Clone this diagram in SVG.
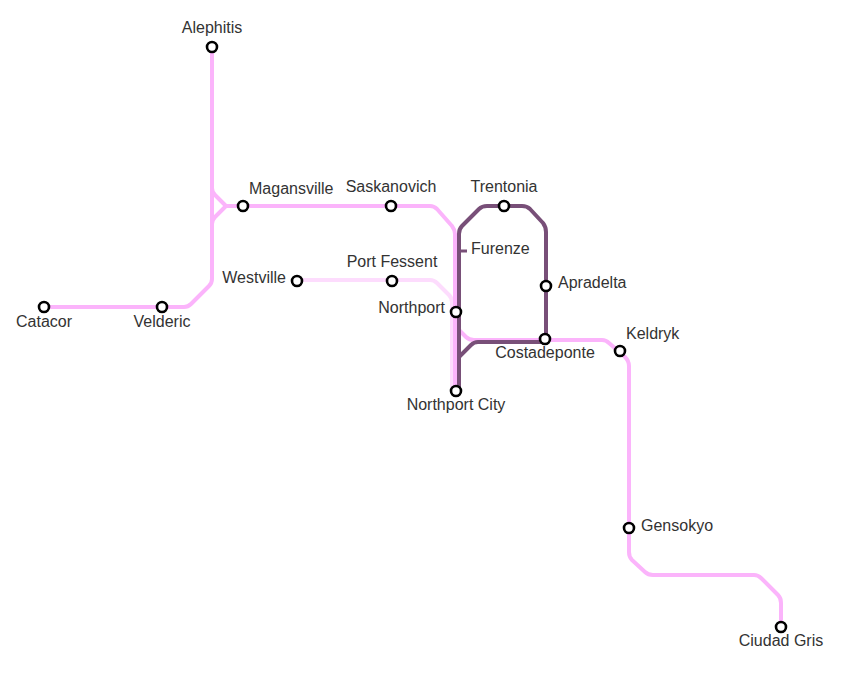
<svg xmlns="http://www.w3.org/2000/svg" width="846" height="687" viewBox="0 0 846 687">
<style>
.ln{fill:none;stroke-width:4;stroke-linejoin:round;stroke-linecap:butt}
.pink{stroke:#fbb4fb}
.lpink{stroke:#fddcfd}
.purple{stroke:#784f78}
.st{fill:#fff;stroke:#000;stroke-width:2.6}
text{font-family:"Liberation Sans",Arial,sans-serif;font-size:16px;fill:#333}
.m{text-anchor:middle}
.e{text-anchor:end}
</style>
<rect width="846" height="687" fill="#fff"/>
<g id="connectors">
<path class="ln lpink" d="M296,280 H430 Q434,280 437,283 L449,295 Q452,298 452,302 V388"/>
<path class="ln pink" d="M44,307 H184 Q188,307 191,304 L209,286 Q212,283 212,279 V47"/>
<path class="ln pink" d="M212,184 V188 Q212,192 215,195 L226,206 H243"/>
<path class="ln pink" d="M212,228 V224 Q212,220 215,217 L226,206"/>
<path class="ln pink" d="M243,206 H430 Q434,206 437,209 L452,226 Q455,230 455,234 V391"/>
<path class="ln pink" d="M455,322 Q455,326 458,329 L466,337 Q469,340 474,340 H602 Q606,340 609,343 L625,357 Q629,361 629,366 V552 Q629,557 632,560 L645,572 Q648,575 653,575 H754 Q758,575 761,578 L778,595 Q781,598 781,603 V627"/>
<path class="ln purple" d="M459,391 V234 Q459,229 462,226 L479,209 Q482,206 487,206 H522 Q527,206 530,209 L543,223 Q546,227 546,232 V337 Q546,342 541,342 H478 Q474,342 471,345 L459,357"/>
</g>
<g id="Alephitis"><circle class="st" cx="212" cy="47" r="5"/><text class="m" x="212" y="33">Alephitis</text></g>
<g id="Magansville"><circle class="st" cx="243" cy="206" r="5"/><text x="249" y="194">Magansville</text></g>
<g id="Saskanovich"><circle class="st" cx="391" cy="206" r="5"/><text class="m" x="391" y="192">Saskanovich</text></g>
<g id="Trentonia"><circle class="st" cx="504" cy="206" r="5"/><text class="m" x="504" y="192">Trentonia</text></g>
<g id="Furenze"><path d="M459,251 H467" stroke="#784f78" stroke-width="3" fill="none"/><text x="471" y="254">Furenze</text></g>
<g id="Westville"><circle class="st" cx="297" cy="281" r="5"/><text class="e" x="286" y="283">Westville</text></g>
<g id="PortFessent"><circle class="st" cx="392" cy="281" r="5"/><text class="m" x="392" y="267">Port Fessent</text></g>
<g id="Northport"><circle class="st" cx="456" cy="312" r="5"/><text class="e" x="445" y="313">Northport</text></g>
<g id="Apradelta"><circle class="st" cx="546" cy="286" r="5"/><text x="558" y="288">Apradelta</text></g>
<g id="Costadeponte"><circle class="st" cx="545" cy="339" r="5"/><text class="m" x="545" y="358">Costadeponte</text></g>
<g id="Keldryk"><circle class="st" cx="620" cy="351" r="5"/><text x="626" y="339">Keldryk</text></g>
<g id="NorthportCity"><circle class="st" cx="456" cy="391" r="5"/><text class="m" x="456" y="410">Northport City</text></g>
<g id="Catacor"><circle class="st" cx="44" cy="307" r="5"/><text class="m" x="44" y="327">Catacor</text></g>
<g id="Velderic"><circle class="st" cx="162" cy="307" r="5"/><text class="m" x="162" y="327">Velderic</text></g>
<g id="Gensokyo"><circle class="st" cx="629" cy="528" r="5"/><text x="641" y="531">Gensokyo</text></g>
<g id="CiudadGris"><circle class="st" cx="781" cy="627" r="5"/><text class="m" x="781" y="646">Ciudad Gris</text></g>
</svg>
